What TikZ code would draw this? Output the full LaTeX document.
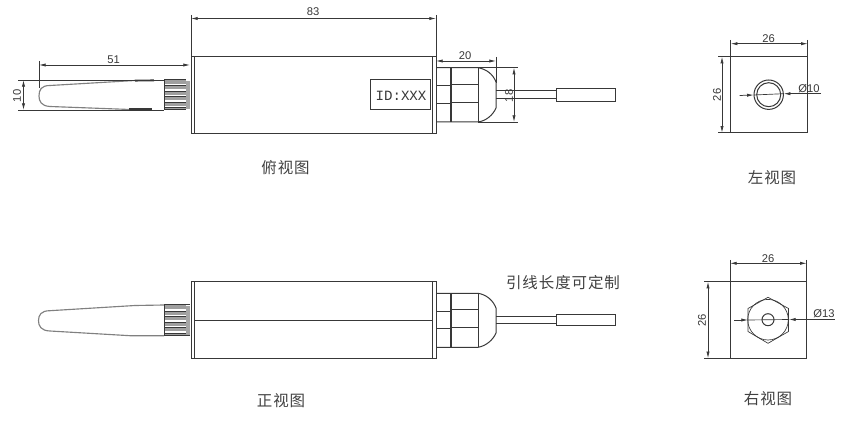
\documentclass[tikz,border=0pt]{standalone}
\usepackage{fontspec}
\setmainfont{Liberation Sans}
\newfontfamily\cjk{Noto Sans CJK SC}[LetterSpace=6]
\newfontfamily\idfont{Liberation Mono}
\usetikzlibrary{arrows.meta}
\definecolor{inkline}{gray}{0.22}
\tikzset{
  outline/.style={draw=inkline, line width=0.75pt},
  softline/.style={draw=gray, line width=0.85pt},
  thickline/.style={draw=inkline, line width=1.4pt},
  extline/.style={draw=inkline, line width=0.5pt},
  dimline/.style={draw=inkline, line width=0.55pt, {Latex[length=5pt,width=2.4pt]}-{Latex[length=5pt,width=2.4pt]}},
  leaderin/.style={draw=inkline, line width=0.55pt, -{Latex[length=5pt,width=2.4pt]}},
  dimtext/.style={font=\fontsize{8.4}{10}\selectfont, text=inkline, inner sep=0pt},
  viewtext/.style={font=\cjk\fontsize{11.6}{14}\selectfont, text=black!75, inner sep=0pt},
}
\begin{document}
\begin{tikzpicture}[x=0.75pt, y=-0.75pt]
  \useasboundingbox (0,0) rectangle (859,423);

      % VUE DESSUS
      \coordinate (T1) at (191,56.5);
      \coordinate (T2) at (436,134);
      \coordinate (Tw) at (496,91);
      \coordinate (Tb) at (615,101.5);

      % CORPS DESSUS
      \draw[outline] (T1) rectangle (T2);
      \draw[outline] (194,56.5) -- (194,134);
      \draw[outline] (432.7,56.5) -- (432.7,134);
      \draw[outline] (370.7,80) rectangle (430.7,110);
      \node[font=\idfont\fontsize{10.6}{12}\selectfont, text=inkline, inner sep=0pt] (idlabel) at (401,96) {ID:XXX};

      % ANTENNE DESSUS
      \draw[softline] (135,80.5) -- (50,85.5) .. controls (41,85.5) and (39,90) .. (39,96)
        .. controls (39,101) and (41,106) .. (50,106.5) -- (130,109.5);
      \draw[thickline] (135,80.6) -- (154,80.4);
      \draw[thickline] (129,109.4) -- (152,109.4);
      \fill[gray!75] (164,80.5) rectangle (186,110);
      \foreach \y in {84.5,90,95.5,101,106.5} {
        \draw[white, line width=0.8pt] (165,\y) -- (186,\y);
        \draw[inkline, line width=0.4pt] (165,\y+1.2) -- (186,\y+1.2);
      }
      \draw[thickline] (164.5,80) -- (164.5,110);
      \draw[outline] (164,80) -- (186,80) (164,110) -- (186,110);
      \fill[gray!70] (186,81) rectangle (190,109);

      % PRESSE-ETOUPE DESSUS
      \draw[outline] (436,67.7) -- (478,67.7) .. controls (486,69) and (493,74) .. (496,82)
        -- (496,108) .. controls (493,115) and (486,121) .. (478,122) -- (436,122);
      \draw[thickline] (451,67.7) -- (451,122);
      \draw[outline] (478,67.7) -- (478,122);
      \draw[outline] (436,86) -- (451,86) (436,104) -- (451,104);
      \draw[outline] (451,84.3) -- (478,84.3) (451,102.3) -- (478,102.3);

      % CABLE DESSUS
      \draw[outline] (Tw) -- (556,91) (496,98.3) -- (556,98.3);
      \draw[outline] (556,89) rectangle (Tb);

      % COTES DESSUS
      \coordinate (d83a) at (191,18.5);
      \coordinate (d83b) at (436,18.5);
      \draw[extline] (191,15) -- (191,56) (436,15) -- (436,56);
      \draw[dimline] (d83a) -- (d83b);
      \node[dimtext] (t83) at (313,12) {83};
      \coordinate (d51a) at (39,65);
      \coordinate (d51b) at (190,65);
      \draw[extline] (39,61) -- (39,88);
      \draw[dimline] (d51a) -- (d51b);
      \node[dimtext] (t51) at (113.5,60) {51};
      \coordinate (d10a) at (23.5,80);
      \coordinate (d10b) at (23.5,110);
      \draw[extline] (18,80) -- (164,80) (18,110) -- (164,110);
      \draw[dimline] (d10a) -- (d10b);
      \node[dimtext, rotate=90] (t10) at (17,96) {10};
      \coordinate (d20a) at (436,61);
      \coordinate (d20b) at (496,61);
      \draw[extline] (496,57) -- (496,83);
      \draw[dimline] (d20a) -- (d20b);
      \node[dimtext] (t20) at (465,56) {20};
      \coordinate (d18a) at (514,67.7);
      \coordinate (d18b) at (514,122);
      \draw[extline] (478,67.7) -- (518,67.7) (478,122) -- (518,122);
      \draw[dimline] (d18a) -- (d18b);
      \node[dimtext, rotate=90] (t18) at (509,96) {18};

      % VUE FACE
      \coordinate (F1) at (191,281.7);
      \coordinate (F2) at (436,358.3);
      \coordinate (Fb) at (615,325.7);
      \draw[outline] (F1) rectangle (F2);
      \draw[outline] (194,281.7) -- (194,358.3);
      \draw[outline] (432.7,281.7) -- (432.7,358.3);
      \draw[outline] (194,320.2) -- (432.7,320.2);

      % ANTENNE FACE
      \draw[softline] (164,305) -- (135,305.5) -- (50,310.7) .. controls (41,310.7) and (38.5,315) .. (38.5,320.7)
        .. controls (38.5,326) and (41,330.7) .. (50,331) -- (130,335.7) -- (164,335.7);
      \fill[gray!75] (164,305.5) rectangle (186,335.5);
      \foreach \y in {310,315.5,321,326.5,332} {
        \draw[white, line width=0.8pt] (165,\y) -- (186,\y);
        \draw[inkline, line width=0.4pt] (165,\y+1.2) -- (186,\y+1.2);
      }
      \draw[thickline] (164.5,305) -- (164.5,335.7);
      \draw[outline] (164,305) -- (190,305) (164,335.7) -- (190,335.7);
      \fill[gray!70] (186,306) rectangle (190,335);

      % PRESSE-ETOUPE FACE
      \draw[outline] (436,293.3) -- (478,293.3) .. controls (486,294.5) and (493,300) .. (496,308)
        -- (496,333) .. controls (493,340) and (486,346) .. (478,347.3) -- (436,347.3);
      \draw[thickline] (451,293.3) -- (451,347.3);
      \draw[outline] (478,293.3) -- (478,347.3);
      \draw[outline] (436,311.7) -- (451,311.7) (436,329) -- (451,329);
      \draw[outline] (451,309.3) -- (478,309.3) (451,327.3) -- (478,327.3);

      % CABLE FACE
      \draw[outline] (496,316.7) -- (556,316.7) (496,323.3) -- (556,323.3);
      \draw[outline] (556,314.3) rectangle (Fb);

      % VUE GAUCHE
      \coordinate (L1) at (730.7,56.7);
      \coordinate (L2) at (807.7,132.7);
      \coordinate (Lc) at (768.7,94.7);
      \draw[outline] (L1) rectangle (L2);
      \draw[outline] (Lc) circle (14.7);
      \draw[outline] (Lc) circle (12);
      \coordinate (l26a) at (730.7,43.7);
      \coordinate (l26b) at (807.7,43.7);
      \draw[extline] (730.7,40) -- (730.7,56) (807.7,40) -- (807.7,56);
      \draw[dimline] (l26a) -- (l26b);
      \node[dimtext] (tl26h) at (768.5,38.5) {26};
      \coordinate (l26c) at (722,56.7);
      \coordinate (l26d) at (722,132.7);
      \draw[extline] (718,56.7) -- (730,56.7) (718,132.7) -- (730,132.7);
      \draw[dimline] (l26c) -- (l26d);
      \node[dimtext, rotate=90] (tl26v) at (717,95) {26};
      \coordinate (l10a) at (739.5,95.5);
      \coordinate (l10b) at (753.7,95);
      \coordinate (l10c) at (821,93.7);
      \coordinate (l10d) at (783.7,93.7);
      \draw[leaderin] (l10a) -- (l10b);
      \draw[leaderin] (l10c) -- (l10d);
      \draw[extline] (l10b) -- (l10d);
      \node[dimtext] (t10dia) at (809,89) {Ø10};

      % VUE DROITE
      \coordinate (R1) at (730,281.7);
      \coordinate (R2) at (806.7,358.3);
      \coordinate (Rc) at (768,319.7);
      \draw[outline] (R1) rectangle (R2);
      \draw[extline] (768,297.3) -- (788.5,308.5) -- (788.5,331.5) -- (768,343.3) -- (748,331.5) -- (748,308.5) -- cycle;
      \draw[extline] (Rc) circle (20.3);
      \draw[outline] (Rc) circle (6);
      \coordinate (r26a) at (730,263.3);
      \coordinate (r26b) at (806.7,263.3);
      \draw[extline] (730,260) -- (730,281) (806.7,260) -- (806.7,281);
      \draw[dimline] (r26a) -- (r26b);
      \node[dimtext] (tr26h) at (768,259) {26};
      \coordinate (r26c) at (708,281.7);
      \coordinate (r26d) at (708,358.3);
      \draw[extline] (704,281.7) -- (730,281.7) (704,358.3) -- (730,358.3);
      \draw[dimline] (r26c) -- (r26d);
      \node[dimtext, rotate=90] (tr26v) at (702,320) {26};
      \coordinate (r13a) at (734,320);
      \coordinate (r13b) at (748,320);
      \coordinate (r13c) at (834.5,319.5);
      \coordinate (r13d) at (789,319.5);
      \draw[leaderin] (r13a) -- (r13b);
      \draw[leaderin] (r13c) -- (r13d);
      \draw[extline] (r13b) -- (r13d);
      \node[dimtext] (t13dia) at (824,314) {Ø13};

      % TEXTES
      \node[viewtext] (topview) at (285.5,168) {俯视图};
      \node[viewtext] (leftview) at (772,178) {左视图};
      \node[viewtext] (frontview) at (281,401) {正视图};
      \node[viewtext] (rightview) at (768,399) {右视图};
      \node[viewtext] (leadnote) at (563,283) {引线长度可定制};
\end{tikzpicture}
\end{document}
